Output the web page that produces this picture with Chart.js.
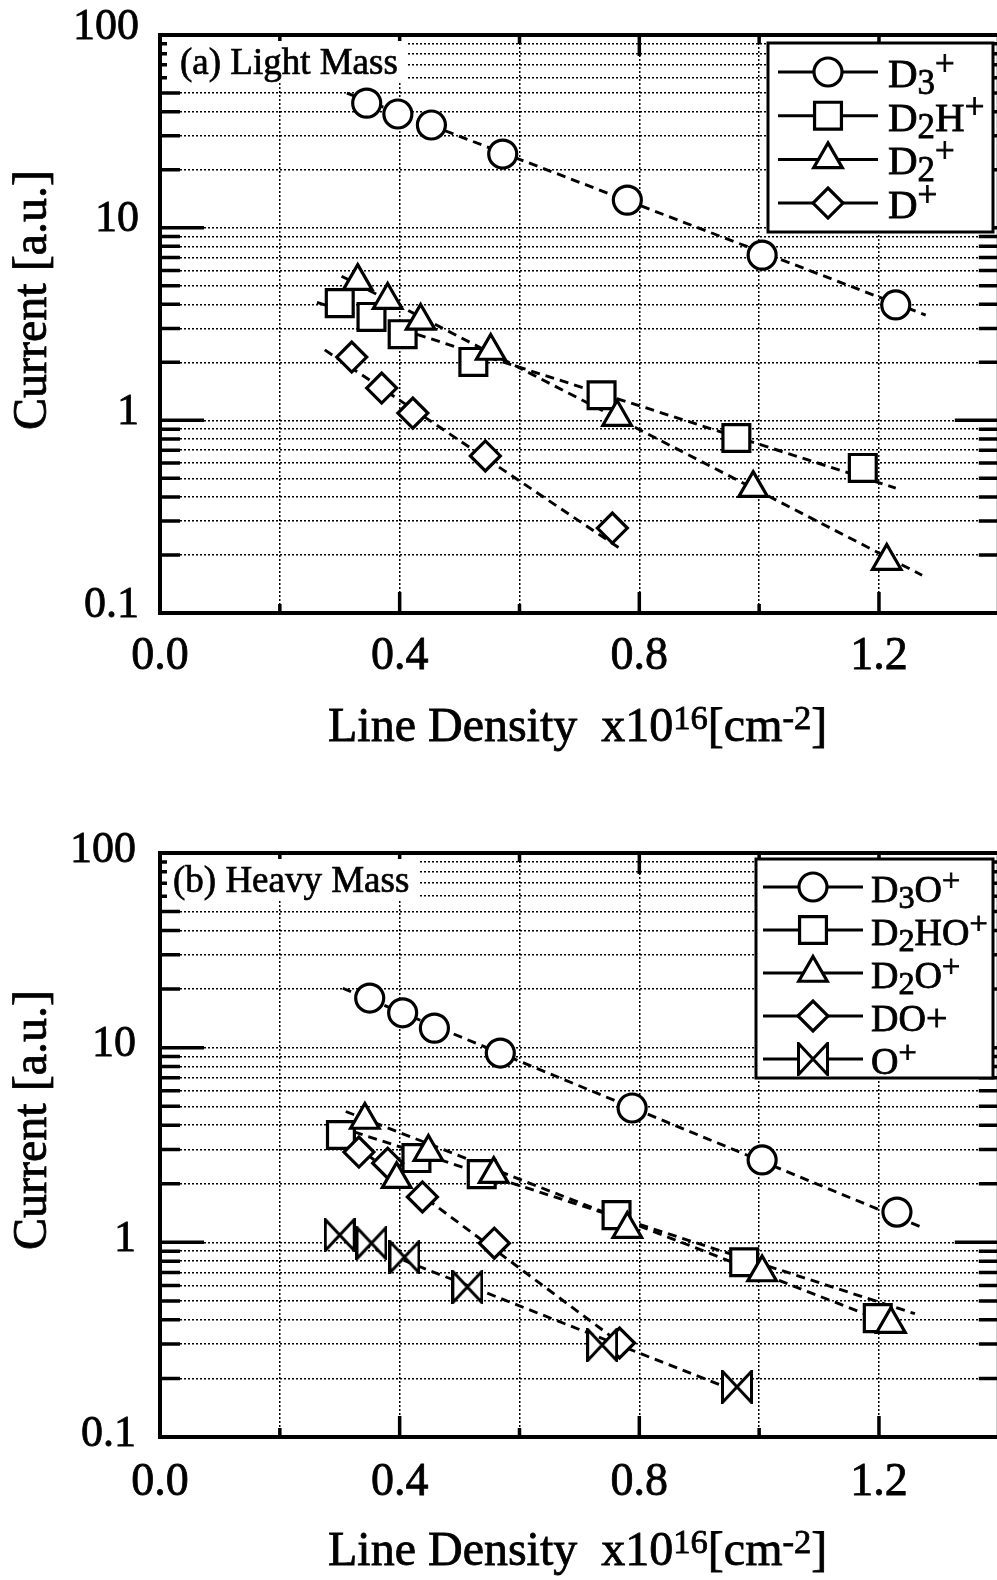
<!DOCTYPE html>
<html>
<head>
<meta charset="utf-8">
<title>Current vs Line Density</title>
<script src="https://cdn.jsdelivr.net/npm/chart.js@4.4.1/dist/chart.umd.min.js"></script>
<style>
  html, body { margin: 0; padding: 0; background: #fff; overflow: hidden; }
  #wrap { position: relative; width: 997px; height: 1580px; overflow: hidden; }
  canvas { position: absolute; left: 0; }
</style>
</head>
<body>
<div id="wrap">
  <canvas id="lightChart" width="1004" height="790" style="top:0"></canvas>
  <canvas id="heavyChart" width="1004" height="790" style="top:790px"></canvas>
</div>
<script>
const SERIF = "'Liberation Serif', 'Times New Roman', Times, serif";

// ---- (a) light mass ions ----
const lightD3x  = [0.345, 0.397, 0.453, 0.572, 0.780, 1.005, 1.228];
const lightD3y  = [44.3, 38.9, 34.1, 24.1, 13.9, 7.2, 3.97];
const lightD2Hx = [0.300, 0.353, 0.405, 0.523, 0.737, 0.962, 1.173];
const lightD2Hy = [4.06, 3.44, 2.80, 2.01, 1.35, 0.81, 0.566];
const lightD2x  = [0.330, 0.380, 0.435, 0.552, 0.763, 0.990, 1.213];
const lightD2y  = [5.28, 4.21, 3.28, 2.29, 1.04, 0.445, 0.186];
const lightDx   = [0.320, 0.370, 0.422, 0.543, 0.755];
const lightDy   = [2.13, 1.47, 1.09, 0.653, 0.276];

// fitted lines (end points)
const lightD3FitX  = [0.312, 1.278]; const lightD3FitY  = [49.9, 3.52];
const lightD2HFitX = [0.262, 1.228]; const lightD2HFitY = [4.1, 0.445];
const lightD2FitX  = [0.303, 1.272]; const lightD2FitY  = [5.6, 0.157];
const lightDFitX   = [0.275, 0.767]; const lightDFitY   = [2.32, 0.217];

// ---- (b) heavy mass ions ----
const heavyD3Ox  = [0.350, 0.405, 0.458, 0.568, 0.788, 1.005, 1.230];
const heavyD3Oy  = [17.98, 15.1, 12.6, 9.38, 4.9, 2.65, 1.43];
const heavyD2HOx = [0.302, 0.428, 0.537, 0.762, 0.975, 1.198];
const heavyD2HOy = [3.56, 2.71, 2.24, 1.38, 0.79, 0.408];
const heavyD2Ox  = [0.342, 0.395, 0.448, 0.557, 0.780, 1.005, 1.220];
const heavyD2Oy  = [4.25, 2.11, 2.91, 2.24, 1.17, 0.70, 0.38];
const heavyDOx   = [0.332, 0.380, 0.438, 0.558, 0.767];
const heavyDOy   = [2.91, 2.55, 1.71, 0.99, 0.304];
const heavyOx    = [0.300, 0.353, 0.408, 0.513, 0.738, 0.963];
const heavyOy    = [1.09, 0.99, 0.84, 0.59, 0.297, 0.181];

const heavyD3OFitX  = [0.305, 1.270]; const heavyD3OFitY  = [20.2, 1.2];
const heavyD2HOFitX = [0.300, 1.260]; const heavyD2HOFitY = [3.9, 0.43];
const heavyD2OFitX  = [0.310, 1.240]; const heavyD2OFitY  = [4.7, 0.36];
const heavyDOFitX   = [0.305, 0.780]; const heavyDOFitY   = [3.5, 0.285];
const heavyOFitX    = [0.290, 0.945]; const heavyOFitY    = [1.12, 0.18];

// axis ticks
const xTickValues = [0, 0.4, 0.8, 1.2];
const xTickLabels = ['0.0', '0.4', '0.8', '1.2'];
const yTickValues = [0.1, 1, 10, 100];
const yTickLabels = ['0.1', '1', '10', '100'];

const near = (a, b) => Math.abs(a - b) < 1e-6 * Math.max(1, Math.abs(b));
const isDecade = v => near(Math.log10(v), Math.round(Math.log10(v)));

function pts(xs, ys) {
  return xs.map((x, i) => ({ x: x, y: ys[i] }));
}

// open "bow tie" marker used for O+
function makeBowtie(w, h) {
  const c = document.createElement('canvas');
  c.width = w; c.height = h;
  const g = c.getContext('2d');
  const m = 1.5;
  g.lineWidth = 3;
  g.lineJoin = 'miter';
  g.beginPath();
  g.moveTo(m, m);
  g.lineTo(m, h - m);
  g.lineTo(w - m, m);
  g.lineTo(w - m, h - m);
  g.closePath();
  g.fillStyle = '#fff';
  g.fill();
  g.strokeStyle = '#000';
  g.stroke();
  return c;
}
const bowtie = makeBowtie(32, 34);

const MARK = {
  circle:   { pointStyle: 'circle',   radius: 14 },
  square:   { pointStyle: 'rect',     radius: 19 },
  triangle: { pointStyle: 'triangle', radius: 16.5 },
  diamond:  { pointStyle: 'rectRot',  radius: 15 },
  bowtie:   { pointStyle: bowtie,     radius: 16 }
};

function series(label, xs, ys, mark, order) {
  return {
    label: label,
    data: pts(xs, ys),
    mark: mark,
    pointStyle: MARK[mark].pointStyle,
    pointRadius: MARK[mark].radius,
    pointHoverRadius: MARK[mark].radius,
    pointBorderWidth: 3.2,
    pointBorderColor: '#000',
    pointBackgroundColor: '#fff',
    showLine: false,
    order: order
  };
}

function fitLine(xs, ys) {
  return {
    data: pts(xs, ys),
    isFit: true,
    showLine: true,
    borderColor: '#000',
    borderWidth: 2.9,
    borderDash: [9, 6],
    pointRadius: 0,
    pointHoverRadius: 0,
    fill: false,
    order: 20
  };
}

// "D_3^+" style markup -> runs of normal / sub / sup text
function parseRich(s) {
  const runs = [];
  for (let i = 0; i < s.length; i++) {
    const ch = s[i];
    if ((ch === '_' || ch === '^') && i + 1 < s.length) {
      let txt;
      if (s[i + 1] === '{') {
        const k = s.indexOf('}', i + 1);
        txt = s.slice(i + 2, k);
        i = k;
      } else {
        txt = s[i + 1];
        i += 1;
      }
      runs.push({ t: txt, mode: ch === '_' ? 'sub' : 'sup' });
    } else if (runs.length && runs[runs.length - 1].mode === 'n') {
      runs[runs.length - 1].t += ch;
    } else {
      runs.push({ t: ch, mode: 'n' });
    }
  }
  return runs;
}

// filled text with a hairline stroke, to get the heavier printed look
function inkText(ctx, t, x, y) {
  ctx.fillText(t, x, y);
  ctx.strokeText(t, x, y);
}

function drawRich(ctx, s, x, y, size, fmt) {
  const runs = parseRich(s);
  const sizeOf = m => m === 'n' ? size : (m === 'sub' ? size * fmt.subScale : size * fmt.supScale);
  ctx.textAlign = 'left';
  ctx.textBaseline = 'alphabetic';
  ctx.strokeStyle = '#000';
  ctx.lineWidth = 0.8;
  let cx = x;
  runs.forEach(r => {
    ctx.font = sizeOf(r.mode).toFixed(1) + 'px ' + SERIF;
    const dy = r.mode === 'sub' ? size * fmt.subDy : (r.mode === 'sup' ? -size * fmt.supDy : 0);
    inkText(ctx, r.t, cx, y + dy);
    cx += ctx.measureText(r.t).width;
  });
}

function drawMarker(ctx, mark, x, y) {
  ctx.fillStyle = '#fff';
  ctx.strokeStyle = '#000';
  ctx.lineWidth = 3.2;
  const m = MARK[mark];
  if (Chart.helpers && Chart.helpers.drawPoint) {
    Chart.helpers.drawPoint(ctx, { pointStyle: m.pointStyle, radius: m.radius, borderWidth: 3.2, rotation: 0 }, x, y);
  } else if (m.pointStyle instanceof HTMLCanvasElement) {
    ctx.drawImage(m.pointStyle, x - m.pointStyle.width / 2, y - m.pointStyle.height / 2);
  } else {
    ctx.beginPath();
    ctx.arc(x, y, m.radius, 0, Math.PI * 2);
    ctx.fill();
    ctx.stroke();
  }
}

const legendFmt = { subScale: 0.85, subDy: 0.17, supScale: 0.85, supDy: 0.3 };
const titleFmt  = { subScale: 0.72, subDy: 0.15, supScale: 0.72, supDy: 0.26 };

// frame, inward ticks, panel tag, legend box and axis titles
const panelDecor = {
  id: 'panelDecor',
  afterDraw(chart, args, o) {
    const ctx = chart.ctx;
    const a = chart.chartArea;
    const xs = chart.scales.x;
    const ys = chart.scales.y;
    ctx.save();

    ctx.strokeStyle = '#000';
    ctx.lineWidth = 3.5;
    ctx.beginPath();
    ys.ticks.forEach(t => {
      const y = ys.getPixelForValue(t.value);
      const len = isDecade(t.value) ? 44 : 20;
      ctx.moveTo(a.left, y); ctx.lineTo(a.left + len, y);
      ctx.moveTo(a.right, y); ctx.lineTo(a.right - len, y);
    });
    xs.ticks.forEach(t => {
      const x = xs.getPixelForValue(t.value);
      const len = xTickValues.some(v => near(v, t.value)) ? 21 : 9;
      ctx.moveTo(x, a.bottom); ctx.lineTo(x, a.bottom - len);
      ctx.moveTo(x, a.top); ctx.lineTo(x, a.top + len);
    });
    ctx.stroke();

    ctx.lineWidth = 4;
    ctx.strokeRect(a.left, a.top, a.right - a.left, a.bottom - a.top);

    // panel tag on a white patch
    const tb = o.tagBox;
    ctx.fillStyle = '#fff';
    ctx.fillRect(tb[0], tb[1], tb[2] - tb[0], tb[3] - tb[1]);
    ctx.fillStyle = '#000';
    ctx.strokeStyle = '#000';
    ctx.lineWidth = 0.7;
    ctx.font = '37px ' + SERIF;
    ctx.textAlign = 'left';
    ctx.textBaseline = 'alphabetic';
    inkText(ctx, o.tag, o.tagX, o.tagY);

    // legend
    const lg = o.legend;
    ctx.fillStyle = '#fff';
    ctx.fillRect(lg.left, lg.top, lg.right - lg.left, lg.bottom - lg.top);
    ctx.strokeStyle = '#000';
    ctx.lineWidth = 3;
    ctx.strokeRect(lg.left, lg.top, lg.right - lg.left, lg.bottom - lg.top);
    const entries = chart.data.datasets.filter(d => !d.isFit);
    entries.forEach((d, i) => {
      const y = lg.row0 + i * lg.rowStep;
      ctx.strokeStyle = '#000';
      ctx.lineWidth = 3;
      ctx.beginPath();
      ctx.moveTo(lg.line0, y);
      ctx.lineTo(lg.line1, y);
      ctx.stroke();
      drawMarker(ctx, d.mark, (lg.line0 + lg.line1) / 2, y);
      ctx.fillStyle = '#000';
      drawRich(ctx, d.label, lg.textX, y + 15, lg.fontSize, legendFmt);
    });

    // axis titles
    ctx.fillStyle = '#000';
    drawRich(ctx, 'Line Density  x10^{16}[cm^{-2}]', o.xTitleX, o.xTitleY, 48, titleFmt);
    ctx.save();
    ctx.translate(o.yTitleX, o.yTitleY);
    ctx.rotate(-Math.PI / 2);
    ctx.font = '48px ' + SERIF;
    ctx.textAlign = 'center';
    ctx.textBaseline = 'middle';
    ctx.strokeStyle = '#000';
    ctx.lineWidth = 0.8;
    inkText(ctx, 'Current [a.u.]', 0, 0);
    ctx.restore();

    ctx.restore();
  }
};

// keep the plot frame exactly where the layout puts it
function noScalePadding(s) {
  s.paddingLeft = 0;
  s.paddingRight = 0;
  s.paddingTop = 0;
  s.paddingBottom = 0;
}

function makeConfig(canvas, p) {
  return {
    type: 'scatter',
    data: { datasets: p.datasets() },
    options: {
      responsive: false,
      maintainAspectRatio: false,
      animation: false,
      devicePixelRatio: 1,
      events: [],
      layout: { padding: { top: p.areaTop, right: 5, left: 0, bottom: 0 } },
      plugins: {
        legend: { display: false },
        tooltip: { enabled: false },
        panelDecor: p.decor
      },
      scales: {
        x: {
          type: 'linear',
          min: 0,
          max: 1.4,
          afterFit: s => { s.height = canvas.height - p.areaBottom; noScalePadding(s); },
          grid: { color: '#000', lineWidth: 1.5, drawTicks: false },
          border: { display: false, dash: [2, 2] },
          ticks: {
            stepSize: 0.2,
            autoSkip: false,
            maxRotation: 0,
            padding: p.xPad,
            color: '#000',
            textStrokeColor: '#000',
            textStrokeWidth: 0.8,
            font: { family: SERIF, size: 46 },
            callback: v => {
              const i = xTickValues.findIndex(t => near(t, v));
              return i >= 0 ? xTickLabels[i] : '';
            }
          }
        },
        y: {
          type: 'logarithmic',
          min: 0.1,
          max: 100,
          afterFit: s => { s.width = 160; noScalePadding(s); },
          afterBuildTicks: s => {
            s.ticks = s.ticks.filter(t => {
              const m = t.value / Math.pow(10, Math.floor(Math.log10(t.value) + 1e-9));
              return near(m, Math.round(m));
            });
          },
          grid: { color: '#000', lineWidth: 1.5, drawTicks: false },
          border: { display: false, dash: [2, 2] },
          ticks: {
            autoSkip: false,
            padding: p.yPad,
            labelOffset: p.yLabelOffset,
            color: '#000',
            textStrokeColor: '#000',
            textStrokeWidth: 0.8,
            font: { family: SERIF, size: 44 },
            callback: v => {
              const i = yTickValues.findIndex(t => near(t, v));
              return i >= 0 ? yTickLabels[i] : '';
            }
          }
        }
      }
    },
    plugins: [panelDecor]
  };
}

// x runs 0 .. 1.4 with the 1.4 edge at x = 999 (just past the page edge)
function buildPanel(canvasId, p) {
  const canvas = document.getElementById(canvasId);
  let chart = new Chart(canvas, makeConfig(canvas, p));
  const short = Math.round(p.areaRight - chart.chartArea.right);
  if (short !== 0) {
    const w = canvas.width + short;
    chart.destroy();
    canvas.width = w;
    chart = new Chart(canvas, makeConfig(canvas, p));
  }
  return chart;
}

buildPanel('lightChart', {
  areaTop: 35,
  areaBottom: 613,
  areaRight: 999,
  xPad: 16,
  yPad: 21,
  yLabelOffset: -8,
  datasets: () => [
    series('D_3^+', lightD3x, lightD3y, 'circle', 2),
    series('D_2H^+', lightD2Hx, lightD2Hy, 'square', 3),
    series('D_2^+', lightD2x, lightD2y, 'triangle', 1),
    series('D^+', lightDx, lightDy, 'diamond', 2),
    fitLine(lightD3FitX, lightD3FitY),
    fitLine(lightD2HFitX, lightD2HFitY),
    fitLine(lightD2FitX, lightD2FitY),
    fitLine(lightDFitX, lightDFitY)
  ],
  decor: {
    tag: '(a) Light Mass', tagX: 180, tagY: 74,
    tagBox: [167, 41, 408, 82],
    legend: { left: 768, top: 43, right: 993, bottom: 232, row0: 72, rowStep: 43.7, line0: 778, line1: 878, textX: 888, fontSize: 41 },
    xTitleX: 328, xTitleY: 741,
    yTitleX: 33, yTitleY: 300
  }
});

buildPanel('heavyChart', {
  areaTop: 63,
  areaBottom: 647,
  areaRight: 999,
  xPad: 18,
  yPad: 24,
  yLabelOffset: -3,
  datasets: () => [
    series('D_3O^+', heavyD3Ox, heavyD3Oy, 'circle', 2),
    series('D_2HO^+', heavyD2HOx, heavyD2HOy, 'square', 4),
    series('D_2O^+', heavyD2Ox, heavyD2Oy, 'triangle', 1),
    series('DO+', heavyDOx, heavyDOy, 'diamond', 3),
    series('O^+', heavyOx, heavyOy, 'bowtie', 2),
    fitLine(heavyD3OFitX, heavyD3OFitY),
    fitLine(heavyD2HOFitX, heavyD2HOFitY),
    fitLine(heavyD2OFitX, heavyD2OFitY),
    fitLine(heavyDOFitX, heavyDOFitY),
    fitLine(heavyOFitX, heavyOFitY)
  ],
  decor: {
    tag: '(b) Heavy Mass', tagX: 173, tagY: 102,
    tagBox: [167, 69, 420, 110],
    legend: { left: 756, top: 69, right: 993, bottom: 288, row0: 97, rowStep: 43, line0: 763, line1: 863, textX: 871, fontSize: 38 },
    xTitleX: 328, xTitleY: 775,
    yTitleX: 33, yTitleY: 330
  }
});
</script>
</body>
</html>
